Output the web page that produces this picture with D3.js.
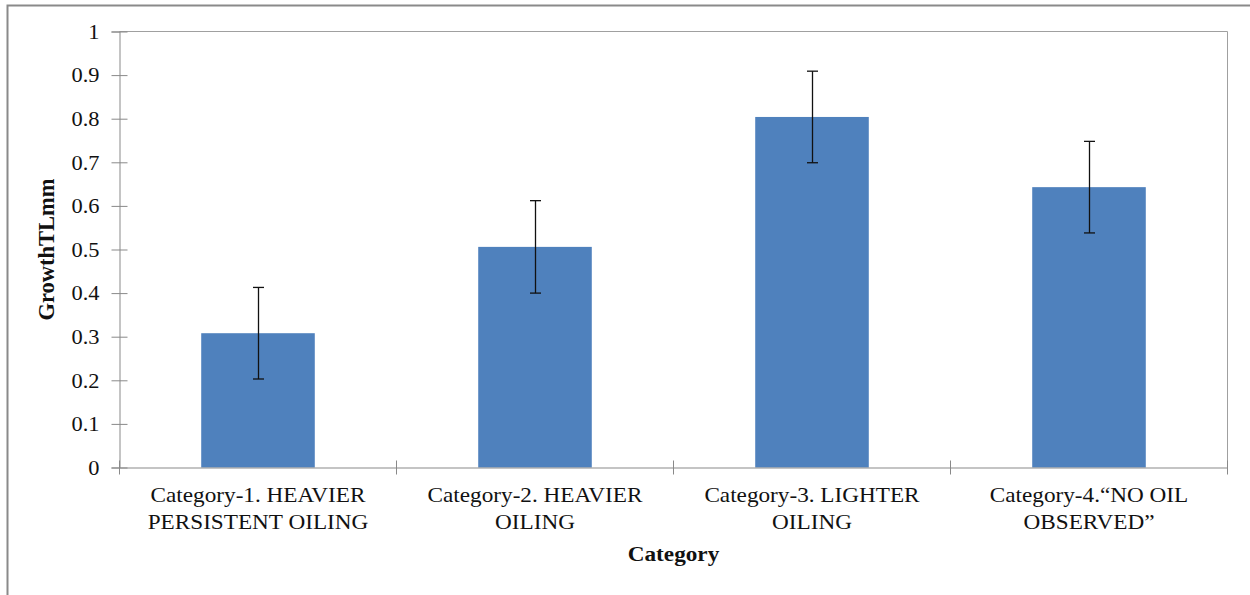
<!DOCTYPE html>
<html>
<head>
<meta charset="utf-8">
<script src="https://cdn.jsdelivr.net/npm/d3@7"></script>
<style>
  html, body { margin: 0; padding: 0; background: #fff; }
  svg { display: block; }
</style>
</head>
<body>
<svg id="chart" width="1250" height="595"></svg>
<script>
const categories = [
  ["Category-1. HEAVIER", "PERSISTENT OILING"],
  ["Category-2. HEAVIER", "OILING"],
  ["Category-3. LIGHTER", "OILING"],
  ["Category-4.\u201CNO OIL", "OBSERVED\u201D"]
];
const values = [0.308, 0.506, 0.804, 0.643];
const errors = [0.105, 0.106, 0.105, 0.105];
const yTicks = [0, 0.1, 0.2, 0.3, 0.4, 0.5, 0.6, 0.7, 0.8, 0.9, 1];
const yTitle = "GrowthTLmm";
const xTitle = "Category";

const svg = d3.select("#chart");
const margin = { left: 119.5, top: 31.5, right: 1227.5, bottom: 467.5 };
const grey = "#898989";
const FONT = '"Liberation Serif"';
const SX = 1.08; // horizontal stretch of the reference text

// outer frame
svg.append("rect")
  .attr("x", 7.5).attr("y", 5.5)
  .attr("width", 1300).attr("height", 700)
  .attr("fill", "none").attr("stroke", "#8a8a8a").attr("stroke-width", 2);

const x = d3.scaleBand()
  .domain(d3.range(categories.length))
  .range([margin.left, margin.right])
  .padding(0);
const y = d3.scaleLinear().domain([0, 1]).range([margin.bottom, margin.top]);

// plot area box (top & right)
svg.append("path")
  .attr("d", `M${margin.left},${margin.top}H${margin.right}V${margin.bottom}`)
  .attr("fill", "none").attr("stroke", "#a0a0a0").attr("stroke-width", 1);

// bars
const barW = x.bandwidth() * 0.41;
svg.append("g").selectAll("rect")
  .data(values)
  .join("rect")
  .attr("x", (d, i) => x(i) + x.bandwidth() / 2 - barW / 2)
  .attr("y", d => y(d))
  .attr("width", barW)
  .attr("height", d => y(0) - y(d))
  .attr("fill", "#4F81BD");

// error bars
const eg = svg.append("g").attr("stroke", "#111").attr("stroke-width", 1.3);
values.forEach((v, i) => {
  const cx = Math.round(x(i) + x.bandwidth() / 2) + 0.5;
  eg.append("line").attr("x1", cx).attr("x2", cx).attr("y1", y(v + errors[i])).attr("y2", y(v - errors[i]));
  eg.append("line").attr("x1", cx - 5.5).attr("x2", cx + 5.5).attr("y1", y(v + errors[i])).attr("y2", y(v + errors[i]));
  eg.append("line").attr("x1", cx - 5.5).attr("x2", cx + 5.5).attr("y1", y(v - errors[i])).attr("y2", y(v - errors[i]));
});

// y axis
const yAxis = svg.append("g")
  .attr("transform", `translate(${margin.left},0)`)
  .call(d3.axisLeft(y).tickValues(yTicks).tickFormat(d3.format("")).tickSize(8).tickPadding(10));
yAxis.select(".domain").attr("stroke", grey);
yAxis.selectAll(".tick line").attr("stroke", grey).attr("x1", -8).attr("x2", 8);
yAxis.selectAll(".tick text")
  .attr("x", 0)
  .attr("transform", "translate(-20,0) scale(1.12,1)")
  .style("font-family", FONT).style("font-size", "20px")
  .attr("fill", "#111").attr("dy", "0.34em");

// x axis
const xAxis = svg.append("g")
  .attr("transform", `translate(0,${margin.bottom})`)
  .call(d3.axisBottom(x).tickSize(0).tickFormat(""));
xAxis.select(".domain").attr("stroke", grey);
xAxis.selectAll(".tick").remove();
const bounds = d3.range(categories.length + 1).map(i => i < categories.length ? x(i) : x(i - 1) + x.bandwidth());
xAxis.selectAll("line.bound").data(bounds).join("line")
  .attr("class", "bound")
  .attr("x1", d => d).attr("x2", d => d)
  .attr("y1", -7).attr("y2", 7)
  .attr("stroke", grey);

// category labels
categories.forEach((lines, i) => {
  const cx = x(i) + x.bandwidth() / 2;
  const t = svg.append("text")
    .attr("transform", `translate(${cx},0) scale(${SX},1)`)
    .attr("text-anchor", "middle").attr("fill", "#111")
    .style("font-family", FONT).style("font-size", "21.5px");
  lines.forEach((ln, j) => {
    t.append("tspan").attr("x", 0).attr("y", 502 + j * 27).text(ln);
  });
});

// axis titles
svg.append("text")
  .attr("transform", `translate(${(margin.left + margin.right) / 2},561) scale(${SX},1)`)
  .attr("text-anchor", "middle").attr("fill", "#111")
  .style("font-family", FONT).style("font-weight", "bold").style("font-size", "21.5px")
  .text(xTitle);

svg.append("text")
  .attr("transform", `translate(54,${(margin.top + margin.bottom) / 2}) rotate(-90)`)
  .attr("text-anchor", "middle").attr("fill", "#111")
  .style("font-family", FONT).style("font-weight", "bold").style("font-size", "22.5px")
  .text(yTitle);
</script>
</body>
</html>
